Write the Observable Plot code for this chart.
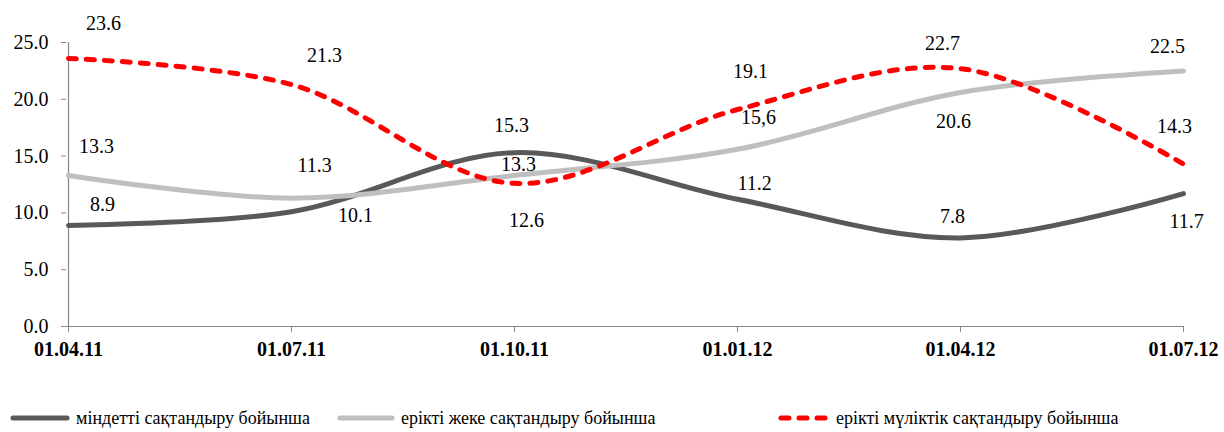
<!DOCTYPE html>
<html><head><meta charset="utf-8">
<script src="https://cdn.jsdelivr.net/npm/d3@7"></script>
<script src="https://cdn.jsdelivr.net/npm/@observablehq/plot@0.6"></script>
<style>
body{margin:0;background:#fff;width:1224px;height:432px;overflow:hidden;font-family:"Liberation Serif","DejaVu Serif",serif;}
#chart{position:absolute;left:0;top:0;}
#legend{position:absolute;left:0;top:406px;width:1224px;height:24px;font-size:18px;color:#000;}
.item{position:absolute;top:0;height:24px;display:flex;align-items:center;white-space:nowrap;}
.item svg{margin-right:6px;}
#chart svg text{font-family:"Liberation Serif","DejaVu Serif",serif;}
</style></head><body>
<div id="chart"></div>
<div id="legend"></div>
<script>
// ---- data ----
const dates = ["01.04.11","01.07.11","01.10.11","01.01.12","01.04.12","01.07.12"];
const seriesNames = ["міндетті сақтандыру бойынша","ерікті жеке сақтандыру бойынша","ерікті мүліктік сақтандыру бойынша"];
const mandatory = [8.9,10.1,15.3,11.2,7.8,11.7];
const voluntaryPersonal = [13.3,11.3,13.3,15.6,20.6,22.5];
const voluntaryProperty = [23.6,21.3,12.6,19.1,22.7,14.3];
const mandatoryLabels = ["8.9","10.1","15.3","11.2","7.8","11.7"];
const voluntaryPersonalLabels = ["13.3","11.3","13.3","15,6","20.6","22.5"];
const voluntaryPropertyLabels = ["23.6","21.3","12.6","19.1","22.7","14.3"];
const yTicks = [0,5,10,15,20,25];

// ---- styles ----
const fontFamily = "'Liberation Serif','DejaVu Serif',serif";
const colors = ["#595959","#bfbfbf","#ff0000"];
const dashes = [null,null,"8,10"];
// label offsets (px) per series per point
const labelOffsets = [
  [[34,-21],[64,4],[-3,-27],[17,-16],[-8,-21],[3,28]],
  [[28,-29],[23,-33],[4,-11],[21,-32],[-7,29],[-16,-24]],
  [[35,-35],[33,-29],[12,37],[13,-38],[-18,-25],[-9,-37]]
];

const values = [mandatory, voluntaryPersonal, voluntaryProperty];
const labels = [mandatoryLabels, voluntaryPersonalLabels, voluntaryPropertyLabels];
const tables = values.map((vals, s) => dates.map((d, i) => ({date: d, value: vals[i], label: labels[s][i], series: seriesNames[s]})));

const lineMarks = tables.map((t, s) => Plot.line(t, {
  x: "date", y: "value", stroke: colors[s], strokeWidth: 5,
  strokeDasharray: dashes[s] || undefined, strokeLinecap: "round",
  curve: "catmull-rom"
}));

const labelMarks = [];
tables.forEach((t, s) => t.forEach((d, i) => {
  labelMarks.push(Plot.text([d], {x: "date", y: "value", text: "label",
    dx: labelOffsets[s][i][0], dy: labelOffsets[s][i][1], fill: "#000", fontSize: 20, fontFamily}));
}));

const chart = Plot.plot({
  width: 1224, height: 390,
  marginLeft: 66, marginRight: 40, marginTop: 42, marginBottom: 64,
  style: {fontFamily, fontSize: "20px", color: "#000", background: "#fff"},
  x: {type: "point", domain: dates, padding: 0},
  y: {domain: [0, 25]},
  marks: [
    Plot.ruleX([dates[0]], {stroke: "#868686", strokeWidth: 1.2}),
    Plot.ruleY([0], {stroke: "#868686", strokeWidth: 1.2}),
    Plot.axisY({ticks: yTicks, tickFormat: d => d.toFixed(1), tickSize: 5, tickPadding: 13, stroke: "#868686", fill: "#000", label: null, fontSize: 20, fontFamily}),
    Plot.axisX({tickSize: 6, tickPadding: 9, stroke: "#868686", fill: "#000", label: null, fontWeight: "bold", fontSize: 20, fontFamily}),
    ...lineMarks,
    ...labelMarks
  ]
});
document.getElementById("chart").appendChild(chart);

// ---- legend ----
const legendPos = [[10, 60], [337, 58], [778, 52]];
const legend = document.getElementById("legend");
seriesNames.forEach((name, s) => {
  const item = document.createElement("div");
  item.className = "item";
  item.style.left = legendPos[s][0] + "px";
  const w = legendPos[s][1];
  const svg = `<svg width="${w}" height="10"><line x1="3" y1="5" x2="${w-3}" y2="5" stroke="${colors[s]}" stroke-width="5" stroke-linecap="round" ${dashes[s] ? `stroke-dasharray="${dashes[s]}"` : ""}/></svg>`;
  item.innerHTML = svg + `<span>${name}</span>`;
  legend.appendChild(item);
});
</script>
</body></html>
